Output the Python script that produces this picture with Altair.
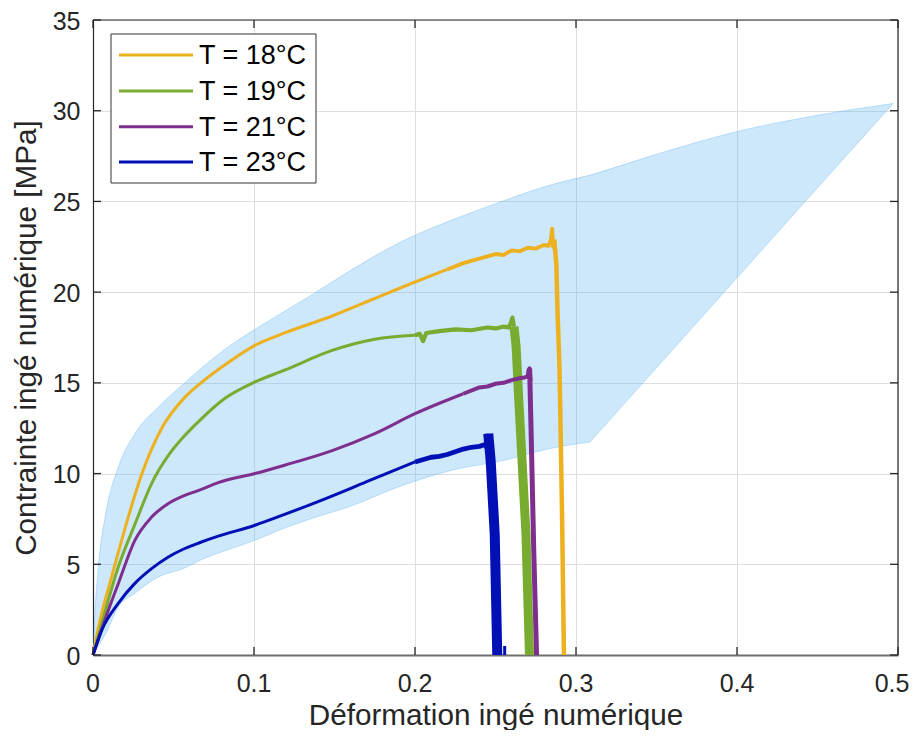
import altair as alt
import pandas as pd

# ---------------- data ----------------
x_ticks = [0, 0.1, 0.2, 0.3, 0.4, 0.5]
x_tick_labels = ["0", "0.1", "0.2", "0.3", "0.4", "0.5"]
y_ticks = [0, 5, 10, 15, 20, 25, 30, 35]

series_labels = ["T = 18°C", "T = 19°C", "T = 21°C", "T = 23°C"]
series_colors = ["#EDB120", "#77AC30", "#7E2F8E", "#0010B4"]

# shaded envelope, curved part (same strain positions for both edges)
band_x = [0, 0.001, 0.0033, 0.0075, 0.0157, 0.026, 0.0406, 0.057, 0.0665, 0.082,
          0.1006, 0.119, 0.135, 0.16, 0.1907, 0.2236, 0.2539, 0.2839, 0.3087]
band_up = [0, 2.0, 4.85, 7.6, 10.36, 12.2, 13.67, 15.0, 15.75, 16.85,
           17.95, 18.95, 19.8, 21.2, 22.75, 24.0, 25.0, 25.9, 26.45]
band_low = [0, 0.15, 0.5, 1.1, 2.65, 3.4, 4.3, 4.8, 5.22, 5.75,
            6.32, 7.0, 7.5, 8.2, 9.3, 10.2, 10.7, 11.38, 11.74]
# envelope, right part (straight lower edge)
band2_x = [0.3087, 0.35, 0.4, 0.45, 0.497]
band2_up = [26.45, 27.6, 28.85, 29.75, 30.4]
band2_low = [11.74, 15.83, 20.79, 25.75, 30.4]

# T = 18 °C : smooth rise, noisy plateau, fracture drop
t18_x = [0, 0.0033, 0.0106, 0.0157, 0.0219, 0.0302, 0.0427, 0.057, 0.0665, 0.082,
         0.1006, 0.119, 0.149, 0.175, 0.2, 0.22]
t18_y = [0, 1.5, 4.0, 5.65, 7.6, 9.95, 12.5, 14.2, 14.96, 16.0,
         17.07, 17.75, 18.7, 19.65, 20.56, 21.25]
t18_noise_x = [0.22, 0.23, 0.24, 0.25, 0.255, 0.26, 0.265, 0.27, 0.275,
               0.28, 0.283, 0.2845, 0.2852, 0.2858, 0.2865]
t18_noise_y = [21.25, 21.6, 21.85, 22.1, 22.05, 22.3, 22.25, 22.45, 22.4,
               22.6, 22.55, 22.9, 23.5, 22.5, 22.9]
t18_drop_x = [0.2865, 0.2878, 0.2885, 0.2898, 0.2913, 0.2925]
t18_drop_y = [22.9, 21.5, 19.0, 15.7, 8.0, 0]

# T = 19 °C
t19_x = [0, 0.005, 0.0157, 0.026, 0.0364, 0.0468, 0.057, 0.0665, 0.082, 0.1006,
         0.119, 0.149, 0.175, 0.2]
t19_y = [0, 1.6, 4.85, 7.2, 9.45, 11.0, 12.1, 12.95, 14.15, 15.05,
         15.7, 16.8, 17.4, 17.62]
t19_noise_x = [0.2, 0.203, 0.205, 0.207, 0.215, 0.225, 0.235, 0.245, 0.25,
               0.255, 0.258, 0.2595, 0.2605, 0.2615]
t19_noise_y = [17.62, 17.7, 17.3, 17.75, 17.85, 17.95, 17.9, 18.05, 18.0,
               18.1, 18.05, 18.3, 18.6, 18.1]
t19_drop_x = [0.2615, 0.2628, 0.2645, 0.2689, 0.2711]
t19_drop_y = [18.1, 17.0, 14.0, 6.7, 0]

# T = 21 °C
t21_x = [0, 0.0095, 0.0157, 0.026, 0.0364, 0.0468, 0.057, 0.0665, 0.0778, 0.1006,
         0.119, 0.149, 0.175, 0.2, 0.23]
t21_y = [0, 2.46, 3.93, 6.32, 7.6, 8.35, 8.8, 9.1, 9.5, 10.0,
         10.46, 11.28, 12.2, 13.3, 14.4]
t21_noise_x = [0.23, 0.24, 0.245, 0.25, 0.255, 0.26, 0.265, 0.268, 0.27, 0.2705,
               0.2712, 0.2718]
t21_noise_y = [14.4, 14.75, 14.8, 14.95, 15.0, 15.15, 15.25, 15.3, 15.35, 15.7,
               15.8, 15.1]
t21_drop_x = [0.2712, 0.2722, 0.2738, 0.2755]
t21_drop_y = [15.8, 12.0, 5.6, 0]

# T = 23 °C
t23_x = [0, 0.0054, 0.0157, 0.026, 0.0364, 0.0468, 0.057, 0.0665, 0.0778, 0.1006,
         0.119, 0.141, 0.17, 0.2]
t23_y = [0, 1.36, 2.85, 3.95, 4.76, 5.4, 5.87, 6.2, 6.55, 7.15,
         7.75, 8.5, 9.55, 10.64]
t23_noise_x = [0.2, 0.21, 0.215, 0.22, 0.225, 0.23, 0.235, 0.24, 0.2435,
               0.2445, 0.2455]
t23_noise_y = [10.64, 10.9, 10.95, 11.05, 11.2, 11.35, 11.45, 11.5, 11.6,
               11.45, 12.2]
t23_drop_x = [0.2455, 0.247, 0.2495, 0.2511]
t23_drop_y = [12.2, 10.7, 6.7, 0]
t23_blip_x = [0.2557, 0.2557]
t23_blip_y = [0, 0.5]

# ---------------- styling ----------------
W, H = 805, 635
FONT = "Liberation Sans"
INK = "#262626"
TITLE_SIZE = 29.7
TICK_SIZE = 25
BAND_COLOR = "#4aaaf0"

xscale = alt.Scale(domain=[0, 0.5], nice=False, zero=False)
yscale = alt.Scale(domain=[0, 35], nice=False, zero=False)

xaxis = alt.Axis(values=x_ticks, grid=True, gridColor="#dfdfdf", gridWidth=1,
                 ticks=False, tickSize=0, labels=False, domain=True, domainColor="#6e6e6e",
                 domainWidth=2,
                 title="Déformation ingé numérique", titleFont=FONT, titleFontSize=TITLE_SIZE,
                 titleFontWeight="normal", titleColor=INK, titleX=W / 2, titleY=69.5,
                 titleAlign="center", titleBaseline="alphabetic")
yaxis = alt.Axis(values=y_ticks, format="~g", grid=True, gridColor="#dfdfdf", gridWidth=1,
                 ticks=False, tickSize=0, domain=True, domainColor=INK, domainWidth=1.2,
                 labelFont=FONT, labelFontSize=TICK_SIZE, labelColor=INK, labelPadding=13,
                 labelBaseline="middle", labelFlush=False, labelOverlap=False, labelOffset=1,
                 title="Contrainte ingé numérique [MPa]", titleFont=FONT, titleFontSize=TITLE_SIZE,
                 titleFontWeight="normal", titleColor=INK, titleX=-58, titleY=H / 2,
                 titleAngle=270, titleAlign="center", titleBaseline="alphabetic")

X = alt.X("x:Q", scale=xscale, axis=xaxis)
Y = alt.Y("y:Q", scale=yscale, axis=yaxis)


def seg(xs, ys):
    return pd.DataFrame({"x": xs, "y": ys, "i": list(range(len(xs)))})


# envelope: fills without outline, then its edges as thin lines
band1 = alt.Chart(pd.DataFrame({"x": band_x, "y": band_low, "y2": band_up})).mark_area(
    fill=BAND_COLOR, fillOpacity=0.28, interpolate="monotone").encode(x=X, y=Y, y2="y2:Q")
band2 = alt.Chart(pd.DataFrame({"x": band2_x, "y": band2_low, "y2": band2_up})).mark_area(
    fill=BAND_COLOR, fillOpacity=0.28, interpolate="monotone").encode(x=X, y=Y, y2="y2:Q")
edge_up = alt.Chart(seg(band_x + band2_x[1:], band_up + band2_up[1:])).mark_line(
    color=BAND_COLOR, opacity=0.3, strokeWidth=1, interpolate="monotone").encode(
    x=X, y=Y, order="i:Q")
edge_low1 = alt.Chart(seg(band_x, band_low)).mark_line(
    color=BAND_COLOR, opacity=0.3, strokeWidth=1, interpolate="monotone").encode(
    x=X, y=Y, order="i:Q")
edge_low2 = alt.Chart(seg(band2_x, band2_low)).mark_line(
    color=BAND_COLOR, opacity=0.3, strokeWidth=1).encode(x=X, y=Y, order="i:Q")

mains = [(t18_x, t18_y), (t19_x, t19_y), (t21_x, t21_y), (t23_x, t23_y)]
noises = [(t18_noise_x, t18_noise_y), (t19_noise_x, t19_noise_y),
          (t21_noise_x, t21_noise_y), (t23_noise_x, t23_noise_y)]
drops = [(t18_drop_x, t18_drop_y), (t19_drop_x, t19_drop_y),
         (t21_drop_x, t21_drop_y), (t23_drop_x, t23_drop_y)]
noise_widths = [3.9, 4.2, 4.0, 4.8]
drop_widths = [4.5, 9, 5, 10]

layers = [band1, band2, edge_up, edge_low1, edge_low2]
for k in range(4):
    c = series_colors[k]
    layers.append(alt.Chart(seg(*mains[k])).mark_line(
        color=c, strokeWidth=3, interpolate="monotone").encode(x=X, y=Y, order="i:Q"))
    layers.append(alt.Chart(seg(*noises[k])).mark_line(
        color=c, strokeWidth=noise_widths[k], strokeJoin="round").encode(x=X, y=Y, order="i:Q"))
    layers.append(alt.Chart(seg(*drops[k])).mark_line(
        color=c, strokeWidth=drop_widths[k], strokeJoin="round").encode(x=X, y=Y, order="i:Q"))
layers.append(alt.Chart(seg(t23_blip_x, t23_blip_y)).mark_line(
    color=series_colors[3], strokeWidth=3).encode(x=X, y=Y, order="i:Q"))

# inward ticks on all four sides
xt = pd.DataFrame({"x": x_ticks, "lab": x_tick_labels})
yt = pd.DataFrame({"y": y_ticks})
TL = 8
layers.append(alt.Chart(xt).mark_rule(color=INK, strokeWidth=1.3).encode(
    x=X, y=alt.value(H), y2=alt.value(H - TL)))
layers.append(alt.Chart(xt).mark_rule(color=INK, strokeWidth=1.3).encode(
    x=X, y=alt.value(0), y2=alt.value(TL)))
layers.append(alt.Chart(yt).mark_rule(color=INK, strokeWidth=1.3).encode(
    y=Y, x=alt.value(0), x2=alt.value(TL)))
layers.append(alt.Chart(yt).mark_rule(color=INK, strokeWidth=1.3).encode(
    y=Y, x=alt.value(W), x2=alt.value(W - TL)))

# x tick labels (last one nudged so it stays inside the page)
layers.append(alt.Chart(xt.iloc[:-1]).mark_text(
    font=FONT, fontSize=TICK_SIZE, color=INK, align="center", baseline="alphabetic").encode(
    x=X, y=alt.value(H + 36.7), text="lab:N"))
layers.append(alt.Chart(xt.iloc[-1:]).mark_text(
    font=FONT, fontSize=TICK_SIZE, color=INK, align="center", baseline="alphabetic", dx=-6).encode(
    x=X, y=alt.value(H + 36.7), text="lab:N"))

# top and right frame
one = pd.DataFrame({"a": [0]})
layers.append(alt.Chart(one).mark_rule(color=INK, strokeWidth=1.2).encode(
    x=alt.value(0), x2=alt.value(W), y=alt.value(0)))
layers.append(alt.Chart(one).mark_rule(color=INK, strokeWidth=1.2).encode(
    x=alt.value(W), y=alt.value(0), y2=alt.value(H)))

# legend (drawn by hand)
layers.append(alt.Chart(one).mark_rect(fill="white", stroke="#333333", strokeWidth=1).encode(
    x=alt.value(18), x2=alt.value(223), y=alt.value(14), y2=alt.value(163)))
row_line_y = [35, 71, 106.7, 142]
row_text_y = [44.3, 80, 115.7, 151]
for k in range(4):
    layers.append(alt.Chart(one).mark_rule(color=series_colors[k], strokeWidth=3).encode(
        x=alt.value(26), x2=alt.value(100), y=alt.value(row_line_y[k])))
    layers.append(alt.Chart(one).mark_text(
        text=series_labels[k], align="left", baseline="alphabetic", font=FONT,
        fontSize=27, color="#000000").encode(x=alt.value(106), y=alt.value(row_text_y[k])))

chart = alt.layer(*layers).properties(
    width=W, height=H,
    padding={"left": 85, "top": 12, "right": 12, "bottom": 75},
    autosize=alt.AutoSizeParams(type="none"),
    background="white",
).configure_view(strokeWidth=0)

chart.save("out.html", embed_options={"renderer": "svg", "actions": False})
